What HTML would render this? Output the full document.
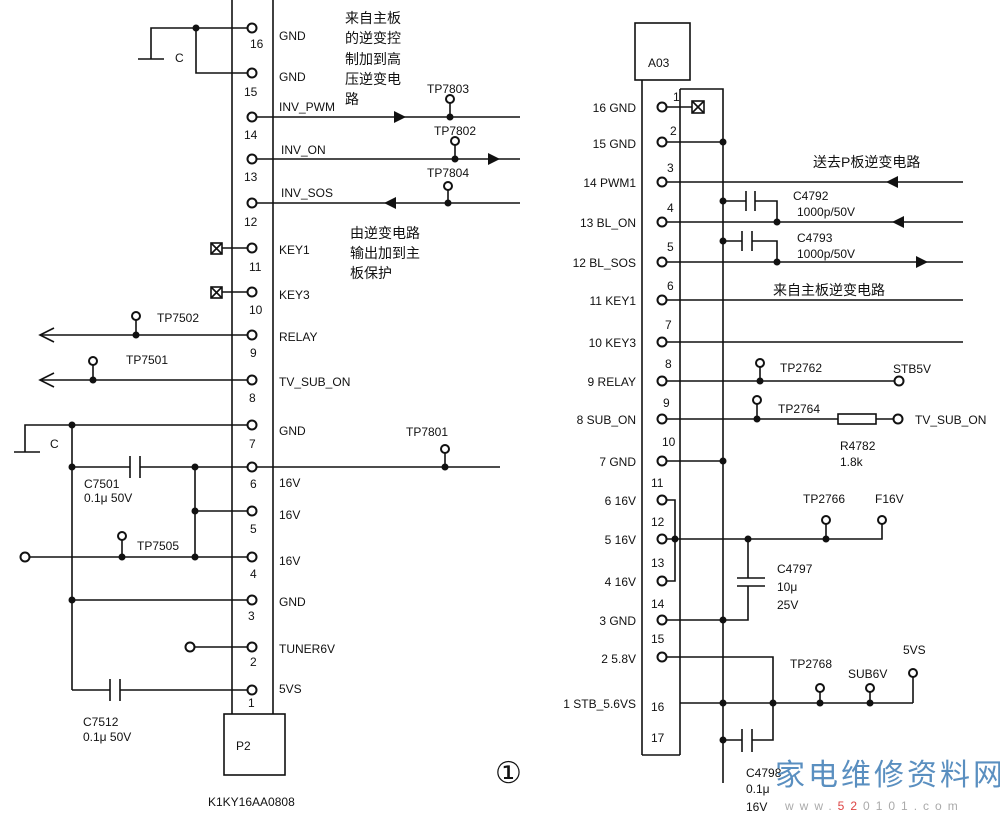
<!DOCTYPE html>
<html><head><meta charset="utf-8"><style>
body{margin:0;background:#fff}
svg{display:block}
text{font-family:"Liberation Sans","Noto Sans CJK SC",sans-serif;fill:#111;font-size:12px}
.c{font-size:14px}
</style></head><body>
<svg width="1000" height="830" viewBox="0 0 1000 830" xmlns="http://www.w3.org/2000/svg">
<g stroke="#111" stroke-width="1.6" fill="none">
<!-- left connector -->
<line x1="232" y1="0" x2="232" y2="714"/><line x1="273" y1="0" x2="273" y2="714"/>
<rect x="224" y="714" width="61" height="61"/>
<!-- top gnd -->
<polyline points="252,28 151,28 151,59"/><line x1="138" y1="59" x2="164" y2="59"/>
<polyline points="196,28 196,73 252,73"/>
<line x1="252" y1="117" x2="520" y2="117"/><line x1="450" y1="101" x2="450" y2="117"/>
<line x1="252" y1="159" x2="520" y2="159"/><line x1="455" y1="142" x2="455" y2="159"/>
<line x1="252" y1="203" x2="520" y2="203"/><line x1="448" y1="188" x2="448" y2="203"/>
<line x1="222" y1="248" x2="252" y2="248"/><rect x="211" y="243" width="11" height="11"/><line x1="211" y1="243" x2="222" y2="254"/><line x1="222" y1="243" x2="211" y2="254"/>
<line x1="222" y1="292" x2="252" y2="292"/><rect x="211" y="287" width="11" height="11"/><line x1="211" y1="287" x2="222" y2="298"/><line x1="222" y1="287" x2="211" y2="298"/>
<line x1="40" y1="335" x2="252" y2="335"/><polyline points="54,328 40,335 54,342"/><line x1="136" y1="317" x2="136" y2="335"/>
<line x1="40" y1="380" x2="252" y2="380"/><polyline points="54,373 40,380 54,387"/><line x1="93" y1="362" x2="93" y2="380"/>
<polyline points="252,425 25,425 25,452"/><line x1="14" y1="452" x2="40" y2="452"/>
<line x1="72" y1="425" x2="72" y2="690"/>
<line x1="72" y1="467" x2="130" y2="467"/><line x1="140" y1="467" x2="500" y2="467"/>
<line x1="130" y1="456" x2="130" y2="478"/><line x1="140" y1="456" x2="140" y2="478"/>
<line x1="445" y1="450" x2="445" y2="467"/>
<line x1="195" y1="467" x2="195" y2="557"/><line x1="195" y1="511" x2="252" y2="511"/>
<line x1="29" y1="557" x2="252" y2="557"/><line x1="122" y1="539" x2="122" y2="557"/>
<line x1="72" y1="600" x2="252" y2="600"/>
<line x1="194" y1="647" x2="252" y2="647"/>
<line x1="72" y1="690" x2="110" y2="690"/><line x1="120" y1="690" x2="252" y2="690"/>
<line x1="110" y1="679" x2="110" y2="701"/><line x1="120" y1="679" x2="120" y2="701"/>
<!-- right connector -->
<rect x="635" y="23" width="55" height="57"/>
<line x1="642" y1="80" x2="642" y2="755"/><line x1="680" y1="89" x2="680" y2="755"/><line x1="642" y1="755" x2="680" y2="755"/>
<polyline points="680,89 723,89 723,783"/>
<line x1="662" y1="107" x2="692" y2="107"/><rect x="692" y="101" width="12" height="12"/><line x1="692" y1="101" x2="704" y2="113"/><line x1="704" y1="101" x2="692" y2="113"/>
<line x1="662" y1="142" x2="723" y2="142"/>
<line x1="662" y1="182" x2="963" y2="182"/>
<line x1="662" y1="222" x2="963" y2="222"/>
<polyline points="723,201 746,201"/><line x1="746" y1="191" x2="746" y2="211"/><line x1="755" y1="191" x2="755" y2="211"/><polyline points="755,201 777,201 777,222"/>
<line x1="662" y1="262" x2="963" y2="262"/>
<polyline points="723,241 742,241"/><line x1="742" y1="231" x2="742" y2="251"/><line x1="752" y1="231" x2="752" y2="251"/><polyline points="752,241 777,241 777,262"/>
<line x1="662" y1="300" x2="963" y2="300"/>
<line x1="662" y1="342" x2="963" y2="342"/>
<line x1="662" y1="381" x2="895" y2="381"/><line x1="760" y1="367" x2="760" y2="381"/>
<line x1="662" y1="419" x2="838" y2="419"/><rect x="838" y="414" width="38" height="10"/><line x1="876" y1="419" x2="894" y2="419"/><line x1="757" y1="404" x2="757" y2="419"/>
<line x1="662" y1="461" x2="723" y2="461"/>
<polyline points="666,500 675,500 675,581 666,581"/>
<polyline points="666,539 882,539 882,524"/><line x1="826" y1="524" x2="826" y2="539"/>
<polyline points="748,539 748,578"/><line x1="737" y1="578" x2="765" y2="578"/><line x1="737" y1="586" x2="765" y2="586"/><polyline points="748,586 748,620 723,620"/>
<line x1="666" y1="620" x2="723" y2="620"/>
<polyline points="666,657 773,657 773,703"/>
<line x1="680" y1="703" x2="913" y2="703"/><line x1="913" y1="703" x2="913" y2="677"/>
<line x1="820" y1="692" x2="820" y2="703"/><line x1="870" y1="692" x2="870" y2="703"/>
<line x1="723" y1="740" x2="742" y2="740"/><line x1="742" y1="729" x2="742" y2="752"/><line x1="752" y1="729" x2="752" y2="752"/><polyline points="752,740 773,740 773,703"/>
</g>
<!-- arrows -->
<g fill="#111">
<polygon points="394,111 406,117 394,123"/><polygon points="488,153 500,159 488,165"/><polygon points="396,197 384,203 396,209"/>
<polygon points="898,176 886,182 898,188"/><polygon points="904,216 892,222 904,228"/><polygon points="916,256 928,262 916,268"/>
</g>
<!-- open circles -->
<g stroke="#111" stroke-width="2" fill="#fff">
<circle cx="252" cy="28" r="4.5"/><circle cx="252" cy="73" r="4.5"/><circle cx="252" cy="117" r="4.5"/><circle cx="252" cy="159" r="4.5"/><circle cx="252" cy="203" r="4.5"/><circle cx="252" cy="248" r="4.5"/><circle cx="252" cy="292" r="4.5"/><circle cx="252" cy="335" r="4.5"/><circle cx="252" cy="380" r="4.5"/><circle cx="252" cy="425" r="4.5"/><circle cx="252" cy="467" r="4.5"/><circle cx="252" cy="511" r="4.5"/><circle cx="252" cy="557" r="4.5"/><circle cx="252" cy="600" r="4.5"/><circle cx="252" cy="647" r="4.5"/><circle cx="252" cy="690" r="4.5"/>
<circle cx="450" cy="99" r="4"/><circle cx="455" cy="141" r="4"/><circle cx="448" cy="186" r="4"/><circle cx="136" cy="316" r="4"/><circle cx="93" cy="361" r="4"/><circle cx="445" cy="449" r="4"/><circle cx="122" cy="536" r="4"/><circle cx="25" cy="557" r="4.5"/><circle cx="190" cy="647" r="4.5"/>
<circle cx="662" cy="107" r="4.5"/><circle cx="662" cy="142" r="4.5"/><circle cx="662" cy="182" r="4.5"/><circle cx="662" cy="222" r="4.5"/><circle cx="662" cy="262" r="4.5"/><circle cx="662" cy="300" r="4.5"/><circle cx="662" cy="342" r="4.5"/><circle cx="662" cy="381" r="4.5"/><circle cx="662" cy="419" r="4.5"/><circle cx="662" cy="461" r="4.5"/><circle cx="662" cy="500" r="4.5"/><circle cx="662" cy="539" r="4.5"/><circle cx="662" cy="581" r="4.5"/><circle cx="662" cy="620" r="4.5"/><circle cx="662" cy="657" r="4.5"/>
<circle cx="760" cy="363" r="4"/><circle cx="899" cy="381" r="4.5"/><circle cx="757" cy="400" r="4"/><circle cx="898" cy="419" r="4.5"/><circle cx="826" cy="520" r="4"/><circle cx="882" cy="520" r="4"/><circle cx="820" cy="688" r="4"/><circle cx="870" cy="688" r="4"/><circle cx="913" cy="673" r="4"/>
</g>
<!-- dots -->
<g fill="#111">
<circle cx="196" cy="28" r="3.5"/><circle cx="450" cy="117" r="3.5"/><circle cx="455" cy="159" r="3.5"/><circle cx="448" cy="203" r="3.5"/><circle cx="136" cy="335" r="3.5"/><circle cx="93" cy="380" r="3.5"/><circle cx="72" cy="425" r="3.5"/><circle cx="72" cy="467" r="3.5"/><circle cx="195" cy="467" r="3.5"/><circle cx="445" cy="467" r="3.5"/><circle cx="195" cy="511" r="3.5"/><circle cx="122" cy="557" r="3.5"/><circle cx="195" cy="557" r="3.5"/><circle cx="72" cy="600" r="3.5"/>
<circle cx="723" cy="142" r="3.5"/><circle cx="723" cy="201" r="3.5"/><circle cx="777" cy="222" r="3.5"/><circle cx="723" cy="241" r="3.5"/><circle cx="777" cy="262" r="3.5"/><circle cx="760" cy="381" r="3.5"/><circle cx="757" cy="419" r="3.5"/><circle cx="723" cy="461" r="3.5"/><circle cx="675" cy="539" r="3.5"/><circle cx="748" cy="539" r="3.5"/><circle cx="826" cy="539" r="3.5"/><circle cx="723" cy="620" r="3.5"/><circle cx="723" cy="703" r="3.5"/><circle cx="773" cy="703" r="3.5"/><circle cx="820" cy="703" r="3.5"/><circle cx="870" cy="703" r="3.5"/><circle cx="723" cy="740" r="3.5"/>
</g>
<!-- left texts -->
<g>
<text x="250" y="48">16</text><text x="244" y="96">15</text><text x="244" y="139">14</text><text x="244" y="181">13</text><text x="244" y="226">12</text><text x="249" y="271">11</text><text x="249" y="314">10</text><text x="250" y="357">9</text><text x="249" y="402">8</text><text x="249" y="448">7</text><text x="250" y="488">6</text><text x="250" y="533">5</text><text x="250" y="578">4</text><text x="248" y="620">3</text><text x="250" y="666">2</text><text x="248" y="707">1</text>
<text x="279" y="40">GND</text><text x="279" y="81">GND</text><text x="279" y="111">INV_PWM</text><text x="281" y="154">INV_ON</text><text x="281" y="197">INV_SOS</text><text x="279" y="254">KEY1</text><text x="279" y="299">KEY3</text><text x="279" y="341">RELAY</text><text x="279" y="386">TV_SUB_ON</text><text x="279" y="435">GND</text><text x="279" y="487">16V</text><text x="279" y="519">16V</text><text x="279" y="565">16V</text><text x="279" y="606">GND</text><text x="279" y="653">TUNER6V</text><text x="279" y="693">5VS</text>
<text x="175" y="62">C</text><text x="50" y="448">C</text>
<text x="427" y="93">TP7803</text><text x="434" y="135">TP7802</text><text x="427" y="177">TP7804</text><text x="157" y="322">TP7502</text><text x="126" y="364">TP7501</text><text x="406" y="436">TP7801</text><text x="137" y="550">TP7505</text>
<text x="84" y="488">C7501</text><text x="84" y="502">0.1μ  50V</text><text x="83" y="726">C7512</text><text x="83" y="741">0.1μ  50V</text>
<text x="236" y="750">P2</text><text x="208" y="806">K1KY16AA0808</text>
<text class="c" x="345" y="23">来自主板</text><text class="c" x="345" y="43">的逆变控</text><text class="c" x="345" y="64">制加到高</text><text class="c" x="345" y="84">压逆变电</text><text class="c" x="345" y="104">路</text>
<text class="c" x="350" y="238">由逆变电路</text><text class="c" x="350" y="258">输出加到主</text><text class="c" x="350" y="278">板保护</text>
<text x="495" y="783" style="font-size:30px;font-family:'Liberation Serif',serif">①</text>
</g>
<!-- right texts -->
<g text-anchor="end">
<text x="636" y="112">16 GND</text><text x="636" y="148">15 GND</text><text x="636" y="187">14 PWM1</text><text x="636" y="227">13 BL_ON</text><text x="636" y="267">12 BL_SOS</text><text x="636" y="305">11 KEY1</text><text x="636" y="347">10 KEY3</text><text x="636" y="386">9 RELAY</text><text x="636" y="424">8 SUB_ON</text><text x="636" y="466">7 GND</text><text x="636" y="505">6 16V</text><text x="636" y="544">5 16V</text><text x="636" y="586">4 16V</text><text x="636" y="625">3 GND</text><text x="636" y="663">2 5.8V</text><text x="636" y="708">1 STB_5.6VS</text>
</g>
<g>
<text x="673" y="101">1</text><text x="670" y="135">2</text><text x="667" y="172">3</text><text x="667" y="212">4</text><text x="667" y="251">5</text><text x="667" y="290">6</text><text x="665" y="329">7</text><text x="665" y="368">8</text><text x="663" y="407">9</text><text x="662" y="446">10</text><text x="651" y="487">11</text><text x="651" y="526">12</text><text x="651" y="567">13</text><text x="651" y="608">14</text><text x="651" y="643">15</text><text x="651" y="711">16</text><text x="651" y="742">17</text>
<text x="648" y="67">A03</text>
<text class="c" x="813" y="167">送去P板逆变电路</text><text class="c" x="773" y="295">来自主板逆变电路</text>
<text x="793" y="200">C4792</text><text x="797" y="216">1000p/50V</text><text x="797" y="242">C4793</text><text x="797" y="258">1000p/50V</text>
<text x="780" y="372">TP2762</text><text x="893" y="373">STB5V</text><text x="778" y="413">TP2764</text><text x="915" y="424">TV_SUB_ON</text><text x="840" y="450">R4782</text><text x="840" y="466">1.8k</text>
<text x="803" y="503">TP2766</text><text x="875" y="503">F16V</text><text x="777" y="573">C4797</text><text x="777" y="591">10μ</text><text x="777" y="609">25V</text>
<text x="790" y="668">TP2768</text><text x="848" y="678">SUB6V</text><text x="903" y="654">5VS</text>
<text x="746" y="777">C4798</text><text x="746" y="793">0.1μ</text><text x="746" y="811">16V</text>
</g>
<text x="775" y="785" style="font-size:30px;fill:#5a8fc0;letter-spacing:3px">家电维修资料网</text>
<text x="785" y="810" style="font-size:12px;fill:#aaa;letter-spacing:6px">www.<tspan style="fill:#d44">52</tspan>0101.com</text>
</svg>
</body></html>
